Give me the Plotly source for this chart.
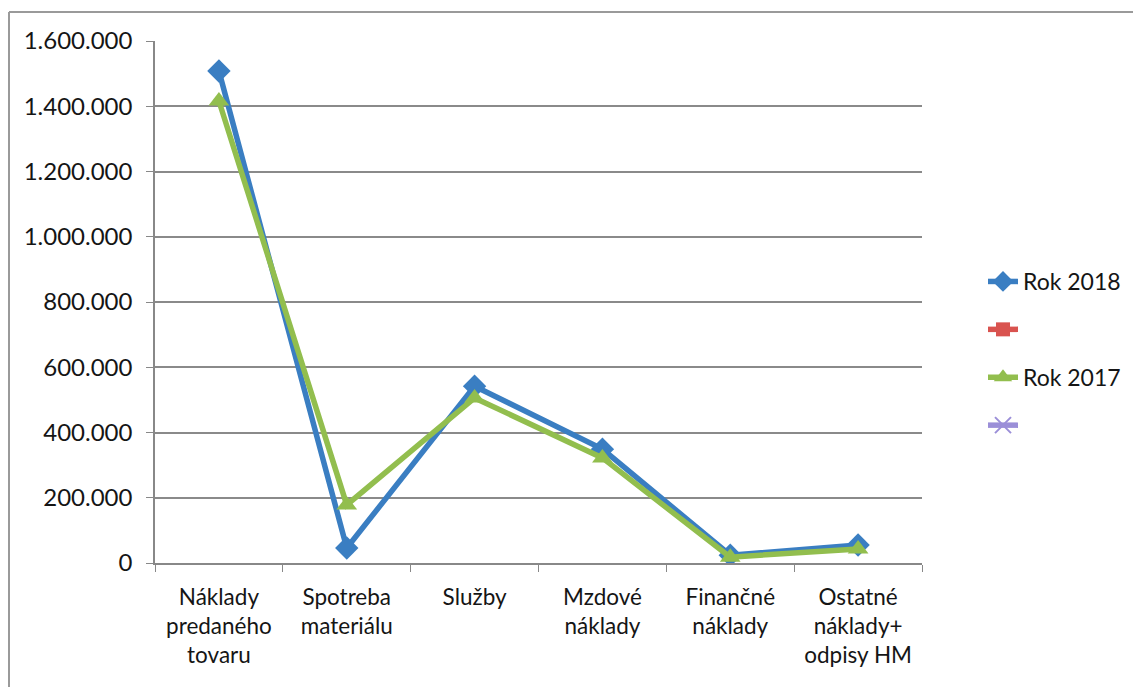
import plotly.graph_objects as go

categories = ["Náklady<br>predaného<br>tovaru", "Spotreba<br>materiálu", "Služby",
              "Mzdové<br>náklady", "Finančné<br>náklady", "Ostatné<br>náklady+<br>odpisy HM"]
rok_2018 = [1508000, 46000, 542000, 349000, 24000, 55000]
rok_2017 = [1416000, 178000, 506000, 322000, 18000, 43000]
empty_series = [None, None, None, None, None, None]
tick_vals = [0, 200000, 400000, 600000, 800000, 1000000, 1200000, 1400000, 1600000]
tick_text = ["0", "200.000", "400.000", "600.000", "800.000", "1.000.000", "1.200.000", "1.400.000", "1.600.000"]

FONT = "Lato"
W, H = 1133, 679  # page body has an 8px margin
OFF = 8
fig = go.Figure()
fig.add_trace(go.Scatter(x=categories, y=rok_2018, name="Rok 2018", mode="lines+markers",
                         line=dict(color="#3A7EC2", width=5.5),
                         marker=dict(symbol="diamond", size=18, color="#3A7EC2"),
                         legendgroup="a"))
fig.add_trace(go.Scatter(x=categories, y=empty_series, name=" ", mode="lines+markers",
                         line=dict(color="#D9534F", width=5.5),
                         marker=dict(symbol="square", size=14, color="#D9534F"),
                         legendgroup="b"))
fig.add_trace(go.Scatter(x=categories, y=rok_2017, name="Rok 2017", mode="lines+markers",
                         line=dict(color="#92BE4E", width=5.5),
                         marker=dict(symbol="triangle-up", size=18, color="#92BE4E"),
                         legendgroup="c"))
fig.add_trace(go.Scatter(x=categories, y=empty_series, name=" ", mode="lines+markers",
                         line=dict(color="#9B8FD8", width=5.5),
                         marker=dict(symbol="x-thin", size=16, line=dict(color="#9B8FD8", width=2)),
                         legendgroup="d"))

px_l, px_r, px_t, px_b = 155 - OFF, 922 - OFF, 41 - OFF, 563 - OFF
L, R, T, B = px_l, W - px_r, px_t, H - px_b
pw, ph = px_r - px_l, px_b - px_t
fig.update_layout(
    width=W, height=H,
    margin=dict(l=L, r=R, t=T, b=B),
    paper_bgcolor="white", plot_bgcolor="white",
    font=dict(family=FONT, size=21, color="#151515"),
    showlegend=True,
    legend=dict(x=(983 - OFF - px_l) / pw, y=(px_b - (260 - OFF)) / ph, xanchor="left", yanchor="top",
                font=dict(size=23), tracegroupgap=15, bgcolor="rgba(0,0,0,0)"),
    xaxis=dict(type="category", tickson="boundaries", ticks="outside", ticklen=7,
               tickcolor="#888", showline=True, linecolor="#888", linewidth=1.5,
               showgrid=False, tickfont=dict(size=22.5), range=[-0.5, 5.5],
               ticklabelstandoff=13),
    yaxis=dict(range=[0, 1600000], tickvals=tick_vals, ticktext=tick_text,
               showgrid=True, gridcolor="#8a8a8a", gridwidth=1.5,
               showline=True, linecolor="#888", linewidth=1.5,
               ticks="outside", ticklen=7, tickcolor="#888", zeroline=False,
               tickfont=dict(size=24), ticklabelstandoff=9),
)
# outer chart border (left and top edges visible)
fig.add_shape(type="line", xref="paper", yref="paper",
              x0=(1 - px_l) / pw, x1=(1 - px_l) / pw, y0=(px_b - 4) / ph, y1=(px_b - 700) / ph,
              line=dict(color="#9a9a9a", width=2))
fig.add_shape(type="line", xref="paper", yref="paper",
              x0=(1 - px_l) / pw, x1=(1200 - px_l) / pw, y0=(px_b - 4) / ph, y1=(px_b - 4) / ph,
              line=dict(color="#9a9a9a", width=2))
fig.write_html("out.html")
